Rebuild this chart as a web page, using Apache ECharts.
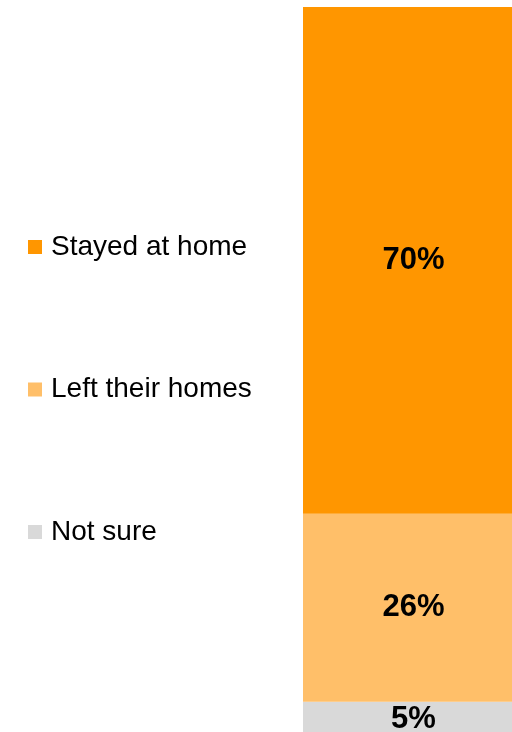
<!DOCTYPE html>
<html>
<head>
<meta charset="utf-8">
<script src="https://cdn.jsdelivr.net/npm/echarts@6/dist/echarts.min.js"></script>
<style>
html,body{margin:0;padding:0;background:#fff;overflow:hidden;width:512px;height:732px;}
#chart{width:524px;height:740px;}
</style>
</head>
<body>
<div id="chart"></div>
<script>
var categories = ['All'];
var seriesNames = ['Stayed at home', 'Left their homes', 'Not sure'];
var stayedAtHome = [70];
var leftTheirHomes = [26];
var notSure = [5];
var colors = ['#FF9600', '#FFBF69', '#D9D9D9'];

var chart = echarts.init(document.getElementById('chart'), null, {renderer: 'canvas'});
var labelStyle = {
  show: true,
  position: 'inside',
  formatter: '{c}%',
  fontFamily: 'Liberation Sans, Arial, sans-serif',
  fontWeight: 'bold',
  fontSize: 31,
  color: '#000',
  padding: [4, 0, 0, 0]
};
chart.setOption({
  animation: false,
  backgroundColor: '#fff',
  grid: {left: 303, width: 221, top: 7, height: 731, containLabel: false},
  xAxis: {type: 'category', data: categories, show: false},
  yAxis: {type: 'value', min: 0, max: 101, show: false},
  legend: {
    orient: 'vertical',
    left: 28,
    top: 232,
    padding: 0,
    itemWidth: 14,
    itemHeight: 14,
    itemGap: 112.5,
    icon: 'rect',
    selectedMode: false,
    data: seriesNames,
    textStyle: {
      fontFamily: 'Liberation Sans, Arial, sans-serif',
      fontSize: 28,
      lineHeight: 28,
      color: '#000',
      padding: [2, 0, 0, 4]
    }
  },
  series: [
    {name: seriesNames[2], type: 'bar', stack: 'a', data: notSure, barWidth: '100%', itemStyle: {color: colors[2]}, label: labelStyle},
    {name: seriesNames[1], type: 'bar', stack: 'a', data: leftTheirHomes, barWidth: '100%', itemStyle: {color: colors[1]}, label: labelStyle},
    {name: seriesNames[0], type: 'bar', stack: 'a', data: stayedAtHome, barWidth: '100%', itemStyle: {color: colors[0]}, label: labelStyle}
  ]
});
</script>
</body>
</html>
